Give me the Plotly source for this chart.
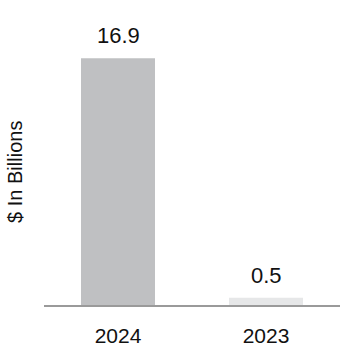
import plotly.graph_objects as go

categories = ["2024", "2023"]
values = [16.9, 0.5]
value_labels = ["16.9", "0.5"]
bar_colors = ["#bfc0c2", "#e6e7e8"]
y_title = "$ In Billions"

FONT = "Liberation Sans, Arial, sans-serif"

fig = go.Figure()
fig.add_trace(go.Bar(
    x=categories, y=values,
    marker=dict(color=bar_colors, line=dict(width=0)),
    hoverinfo="skip",
))

for i, (v, t) in enumerate(zip(values, value_labels)):
    fig.add_annotation(x=i, y=v, text=t, showarrow=False, yanchor="bottom",
                       yshift=8, font=dict(family=FONT, size=22, color="#111111"))

fig.add_annotation(text=y_title, xref="paper", yref="paper", x=-0.098, y=0.467,
                   xanchor="center", yanchor="middle", textangle=-90, showarrow=False,
                   font=dict(family=FONT, size=20, color="#111111"))

fig.update_layout(
    width=360, height=364,
    margin=dict(l=44, r=20, t=20, b=59),
    paper_bgcolor="white", plot_bgcolor="white",
    bargap=0.5,
    showlegend=False,
    font=dict(family=FONT, color="#111111"),
)
fig.update_xaxes(
    type="category", range=[-0.5, 1.5],
    showgrid=False, showline=True, linecolor="#9a9a9a", linewidth=2,
    ticks="", tickfont=dict(family=FONT, size=21, color="#111111"),
    ticklabelstandoff=11,
)
fig.update_yaxes(
    range=[0, 19.52], showgrid=False, showticklabels=False, zeroline=False,
    showline=False, ticks="",
)
fig.write_html("out.html")
